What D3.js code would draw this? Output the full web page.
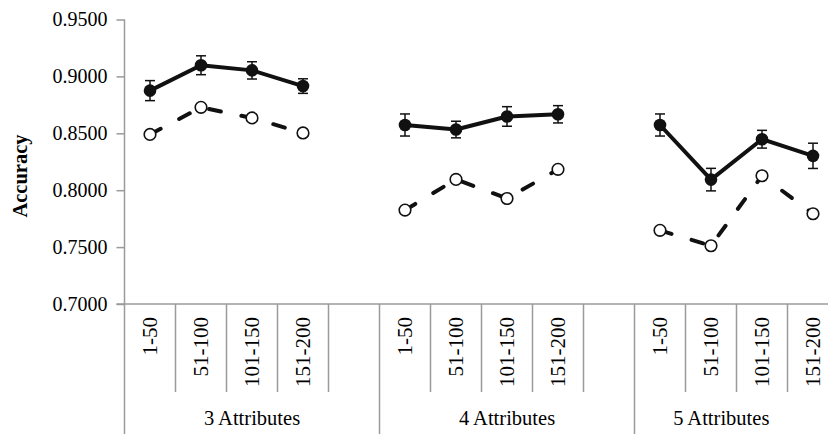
<!DOCTYPE html>
<html>
<head>
<meta charset="utf-8">
<script src="https://cdn.jsdelivr.net/npm/d3@7"></script>
<style>
  html, body { margin: 0; padding: 0; background: #fff; }
  svg { display: block; }
  svg text { font-family: "Liberation Serif", "Times New Roman", "DejaVu Serif", serif !important; fill: #000; }
</style>
</head>
<body>
<svg id="chart" width="828" height="434" font-family="Liberation Serif, serif"></svg>
<script>
// ---- data ----
const groups = ["3 Attributes", "4 Attributes", "5 Attributes"];
const ranges = ["1-50", "51-100", "101-150", "151-200"];
const solidValues = [
  [0.8875, 0.9098, 0.9053, 0.8915],
  [0.8573, 0.8533, 0.8648, 0.8667],
  [0.8573, 0.8093, 0.8448, 0.8302]
];
const solidErrors = [
  [0.0088, 0.0083, 0.0076, 0.0064],
  [0.0097, 0.0073, 0.0086, 0.0076],
  [0.0097, 0.0099, 0.0078, 0.0111]
];
const dashedValues = [
  [0.8490, 0.8728, 0.8635, 0.8503],
  [0.7825, 0.8095, 0.7927, 0.8183],
  [0.7647, 0.7512, 0.8127, 0.7793]
];
const yTicks = [0.70, 0.75, 0.80, 0.85, 0.90, 0.95];
const yTitle = "Accuracy";

// ---- layout ----
const W = 828, H = 434;
const axisX = 124.5, slotW = 51;
const yTop = 19.5, yBottom = 304;
const slotsPerGroup = ranges.length + 1; // 4 categories + 1 gap
const labelVisibleRight = 808;

const svg = d3.select("#chart");

// slot ids
const slots = [];
groups.forEach((g, gi) => {
  for (let s = 0; s < slotsPerGroup; s++) slots.push(gi + "-" + s);
});
const x = d3.scaleBand().domain(slots).range([axisX, axisX + slots.length * slotW]).padding(0);
const y = d3.scaleLinear().domain([0.70, 0.95]).range([yBottom, yTop]);

const axisColor = "#9a9a9a";

// y axis
const yAxis = d3.axisLeft(y).tickValues(yTicks).tickFormat(d3.format(".4f")).tickSize(8).tickPadding(9);
const yg = svg.append("g").attr("transform", `translate(${axisX},0)`).call(yAxis);
yg.attr("font-family", null).attr("font-size", null);
yg.select(".domain").remove();
yg.selectAll(".tick line").attr("stroke", axisColor).attr("stroke-width", 1.5);
yg.selectAll(".tick text").style("font-size", "20px");
// vertical axis line (extends down through category area)
svg.append("line").attr("x1", axisX).attr("x2", axisX).attr("y1", y(0.95)).attr("y2", H)
  .attr("stroke", axisColor).attr("stroke-width", 1.5);

// x axis line
svg.append("line").attr("x1", axisX - 8).attr("x2", W).attr("y1", yBottom).attr("y2", yBottom)
  .attr("stroke", axisColor).attr("stroke-width", 1.5);

// category separators
slots.forEach((s, i) => {
  const inGroup = i % slotsPerGroup;
  if (i === 0) return;
  const xx = x(s);
  svg.append("line").attr("x1", xx).attr("x2", xx).attr("y1", yBottom)
    .attr("y2", inGroup === 0 ? H : 392)
    .attr("stroke", axisColor).attr("stroke-width", 1.5);
});

// category labels (rotated)
groups.forEach((g, gi) => {
  ranges.forEach((r, ri) => {
    const cx = x(gi + "-" + ri) + x.bandwidth() / 2;
    svg.append("text")
      .attr("transform", `translate(${cx},317) rotate(-90)`)
      .attr("text-anchor", "end")
      .attr("dy", "0.33em")
      .style("font-size", "21px")
      .text(r);
  });
  const gStart = x(gi + "-0");
  const gEnd = Math.min(x(gi + "-" + (slotsPerGroup - 1)) + x.bandwidth(), labelVisibleRight);
  svg.append("text")
    .attr("x", (gStart + gEnd) / 2)
    .attr("y", 425)
    .attr("text-anchor", "middle")
    .style("font-size", "20.5px")
    .text(g);
});

// y title
svg.append("text")
  .attr("transform", `translate(27,176) rotate(-90)`)
  .attr("text-anchor", "middle")
  .style("font-size", "20.5px")
  .style("font-weight", "bold")
  .text(yTitle);

const ink = "#111";

// lines
const line = d3.line().x(d => d.x).y(d => d.y);
groups.forEach((g, gi) => {
  const dpts = ranges.map((r, ri) => ({ x: x(gi + "-" + ri) + x.bandwidth() / 2, y: y(dashedValues[gi][ri]) }));
  svg.append("path").attr("d", line(dpts)).attr("fill", "none").attr("stroke", ink)
    .attr("stroke-width", 4).attr("stroke-dasharray", "12,21").attr("stroke-linecap", "round");
  const spts = ranges.map((r, ri) => ({ x: x(gi + "-" + ri) + x.bandwidth() / 2, y: y(solidValues[gi][ri]) }));
  svg.append("path").attr("d", line(spts)).attr("fill", "none").attr("stroke", ink)
    .attr("stroke-width", 4).attr("stroke-linejoin", "round");
});

// markers & error bars
groups.forEach((g, gi) => {
  ranges.forEach((r, ri) => {
    const cx = x(gi + "-" + ri) + x.bandwidth() / 2;
    // dashed-series open marker
    svg.append("circle").attr("cx", cx).attr("cy", y(dashedValues[gi][ri])).attr("r", 5.8)
      .attr("fill", "#fff").attr("stroke", ink).attr("stroke-width", 1.6);
    // error bar
    const v = solidValues[gi][ri], e = solidErrors[gi][ri];
    const eg = svg.append("g").attr("stroke", ink).attr("stroke-width", 1.5);
    eg.append("line").attr("x1", cx).attr("x2", cx).attr("y1", y(v + e)).attr("y2", y(v - e));
    eg.append("line").attr("x1", cx - 5).attr("x2", cx + 5).attr("y1", y(v + e)).attr("y2", y(v + e));
    eg.append("line").attr("x1", cx - 5).attr("x2", cx + 5).attr("y1", y(v - e)).attr("y2", y(v - e));
    svg.append("circle").attr("cx", cx).attr("cy", y(v)).attr("r", 6.3).attr("fill", ink);
  });
});
</script>
</body>
</html>
